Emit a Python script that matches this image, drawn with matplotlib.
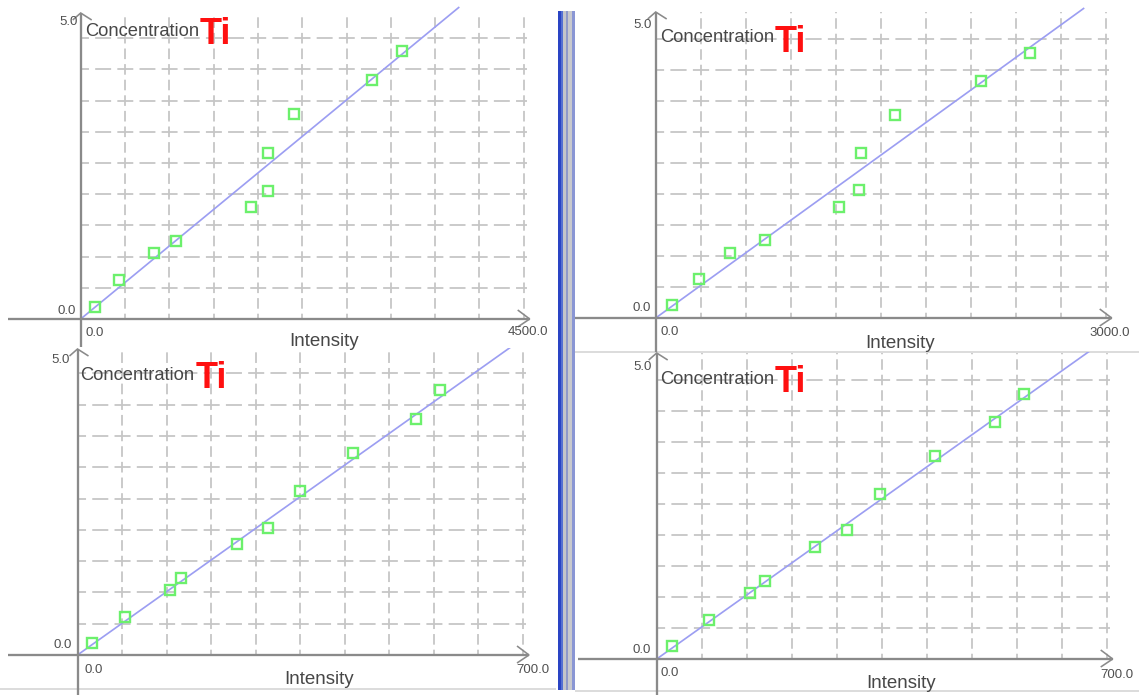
import matplotlib
matplotlib.use("Agg")
import matplotlib.pyplot as plt

plt.rcParams["font.family"] = ["Liberation Sans", "DejaVu Sans"]
plt.rcParams["lines.scale_dashes"] = False
plt.rcParams["lines.solid_capstyle"] = "butt"
plt.rcParams["lines.dash_capstyle"] = "butt"

W, H, DPI = 1139, 695, 100
PT = 72.0 / DPI  # points per pixel

# ---- Ti calibration data, one set per panel ----
element = "Ti"
y_label = "Concentration"
x_label = "Intensity"
y_max = 5.0
y_step = 0.5

tl_intensity = [145, 390, 745, 969, 1731, 1904, 1904, 2168, 2960, 3265]
tl_conc = [0.19, 0.63, 1.06, 1.25, 1.79, 2.05, 2.66, 3.29, 3.83, 4.29]
tl_fit_x = [0, 3846]
tl_fit_y = [0.0, 5.0]
tl_x_max = 4500.0

tr_intensity = [109, 289, 495, 729, 1222, 1355, 1369, 1595, 2169, 2495]
tr_conc = [0.21, 0.63, 1.05, 1.26, 1.79, 2.06, 2.66, 3.27, 3.82, 4.27]
tr_fit_x = [0, 2857]
tr_fit_y = [0.0, 5.0]
tr_x_max = 3000.0

bl_intensity = [23.5, 75, 146, 163, 250, 300, 350, 433, 532, 570]
bl_conc = [0.19, 0.61, 1.04, 1.23, 1.77, 2.03, 2.62, 3.23, 3.77, 4.23]
bl_fit_x = [0, 692]
bl_fit_y = [0.0, 5.0]
bl_x_max = 700.0

br_intensity = [23.8, 81.4, 145, 168, 246, 296, 347, 433, 526, 572]
br_conc = [0.21, 0.63, 1.06, 1.26, 1.81, 2.08, 2.66, 3.27, 3.82, 4.27]
br_fit_x = [0, 678]
br_fit_y = [0.0, 5.0]
br_x_max = 700.0

# ---- styling ----
AXIS_C = "#8a8a8a"
GRID_C = "#c6c6c6"
TEXT_C = "#474747"
NUM_C = "#505050"
FIT_C = "#9c9ef2"
PT_C = "#6cf06c"
TITLE_C = "#ff1010"

fig = plt.figure(figsize=(W / DPI, H / DPI), dpi=DPI)
fig.patch.set_facecolor("white")

# background layer in pixel units: panel separator and frame lines
bg = fig.add_axes([0, 0, 1, 1])
bg.set_xlim(0, W)
bg.set_ylim(H, 0)
bg.axis("off")
for x0, x1, c in [(557.5, 560.5, "#2a44c4"), (560.5, 563, "#5570d2"),
                  (563, 566, "#c4c5ca"), (566, 568.3, "#8f99c9"),
                  (568.3, 571.5, "#c8c9ce"), (571.5, 575, "#8a96d4")]:
    bg.fill_between([x0, x1], 11, 690, color=c, lw=0)
bg.plot([575, W], [352, 352], color="#d6d6d6", lw=1.2)
bg.plot([575, W], [691, 691], color="#d6d6d6", lw=1.2)
bg.plot([0, 556], [689, 689], color="#d6d6d6", lw=1.2)


def draw_panel(box, origin, x_end_px, y_gap_px, x_axis_left, y_axis_bottom,
               intensity, conc, fit_x, fit_y, x_max, x_tick_label, offs):
    l, r, t, b = box
    ox, oy = origin
    sx = (x_end_px - ox) / x_max          # pixels per intensity unit
    sy = y_gap_px / y_step                # pixels per concentration unit
    ax = fig.add_axes([l / W, 1 - b / H, (r - l) / W, (b - t) / H])
    ax.set_xlim((l - ox) / sx, (r - ox) / sx)
    ax.set_ylim((oy - b) / sy, (oy - t) / sy)
    ax.axis("off")

    y_top = 306 / sy
    x_tip = x_max + 6 / sx

    # dashed grid, with a dash centred on every crossing
    hp = x_end_px - ox
    hper = hp / 20.0
    hon = hper * 0.72
    vper = y_gap_px / 2.0
    von = vper * 0.68
    gw = 1.8 * PT
    for k in range(1, 11):
        xv = x_max * k / 10
        ax.plot([xv, xv], [0, y_top], color=GRID_C, lw=gw, zorder=1,
                linestyle=(von / 2 * PT, (von * PT, (vper - von) * PT)))
    for k in range(1, 10):
        yh = y_step * k
        ax.plot([0, x_max + 3 / sx], [yh, yh], color=GRID_C, lw=gw, zorder=1,
                linestyle=(hon / 2 * PT, (hon * PT, (hper - hon) * PT)))

    # axes with arrow heads
    aw = 2.3 * PT
    ax.plot([(x_axis_left - ox) / sx, x_tip], [0, 0], color=AXIS_C, lw=aw, zorder=3)
    ax.plot([0, 0], [(oy - y_axis_bottom) / sy, y_top], color=AXIS_C, lw=aw, zorder=3)
    ax.plot([x_tip - 12 / sx, x_tip, x_tip - 12 / sx], [9 / sy, 0, -8 / sy],
            color=AXIS_C, lw=1.6 * PT, zorder=3, solid_joinstyle="miter")
    ax.plot([-8 / sx, 0, 11 / sx], [y_top - 7 / sy, y_top, y_top - 7 / sy],
            color=AXIS_C, lw=1.6 * PT, zorder=3, solid_joinstyle="miter")

    # calibration line and standards
    ax.plot(fit_x, fit_y, color=FIT_C, lw=1.7 * PT, zorder=2, clip_on=True)
    ax.plot(intensity, conc, "s", mfc="none", mec=PT_C, ms=7.6, mew=1.7,
            zorder=4)

    def put(s, xy, d, **kw):
        return ax.annotate(s, xy=xy, xycoords="data", xytext=d,
                           textcoords="offset pixels", annotation_clip=False,
                           **kw)

    put(f"{y_max:.1f}", (0, 0), offs["ymax"], ha="center", va="center",
        fontsize=9.5, color=NUM_C, zorder=5)
    ylab = put(y_label, (0, 0), offs["ylab"], ha="left", va="center",
               fontsize=13.2, color=TEXT_C, zorder=5)
    # element symbol sits right after the concentration label
    ax.annotate(element, xy=(1, 0.5), xycoords=ylab, xytext=(1, offs["title_dy"]),
                textcoords="offset pixels", ha="left", va="center",
                fontsize=26, fontweight="bold", color=TITLE_C, zorder=6,
                annotation_clip=False)
    put("0.0", (0, 0), offs["y0"], ha="right", va="center",
        fontsize=9.5, color=NUM_C, zorder=5)
    put("0.0", (0, 0), offs["x0"], ha="left", va="center",
        fontsize=9.5, color=NUM_C, zorder=5)
    put(x_tick_label, (x_max, 0), offs["xmax"], ha="center", va="center",
        fontsize=9.5, color=NUM_C, zorder=5)
    put(x_label, (0, 0), offs["xlab"], ha="center", va="center",
        fontsize=13.5, color=TEXT_C, zorder=5)
    return ax


draw_panel((8, 557, 0, 348), (80.7, 319), 523.7, 31.2, 8, 347,
           tl_intensity, tl_conc, tl_fit_x, tl_fit_y, tl_x_max, "4500.0",
           dict(ymax=(-12, 297), ylab=(4, 287), title_dy=-3,
                y0=(-5, 8), x0=(5, -14), xmax=(4, -13), xlab=(243, -23)))

draw_panel((575, W, 0, 352), (655.7, 318), 1105.7, 31.0, 575, 352,
           tr_intensity, tr_conc, tr_fit_x, tr_fit_y, tr_x_max, "3000.0",
           dict(ymax=(-13, 293), ylab=(4, 281), title_dy=-5,
                y0=(-5, 10), x0=(5, -14), xmax=(4, -15), xlab=(244, -25)))

draw_panel((8, 557, 348, H), (77.5, 655), 523.0, 31.3, 8, 695,
           bl_intensity, bl_conc, bl_fit_x, bl_fit_y, bl_x_max, "700.0",
           dict(ymax=(-17, 295), ylab=(3, 279), title_dy=-2,
                y0=(-6, 10), x0=(7, -15), xmax=(10, -15), xlab=(242, -25)))

draw_panel((575, W, 352, H), (656.7, 659), 1106.7, 31.0, 578, 695,
           br_intensity, br_conc, br_fit_x, br_fit_y, br_x_max, "700.0",
           dict(ymax=(-14, 292), ylab=(3, 279), title_dy=-3,
                y0=(-6, 9), x0=(4, -14), xmax=(10, -16), xlab=(244, -24)))

fig.savefig("out.png", dpi=DPI, facecolor="white")
